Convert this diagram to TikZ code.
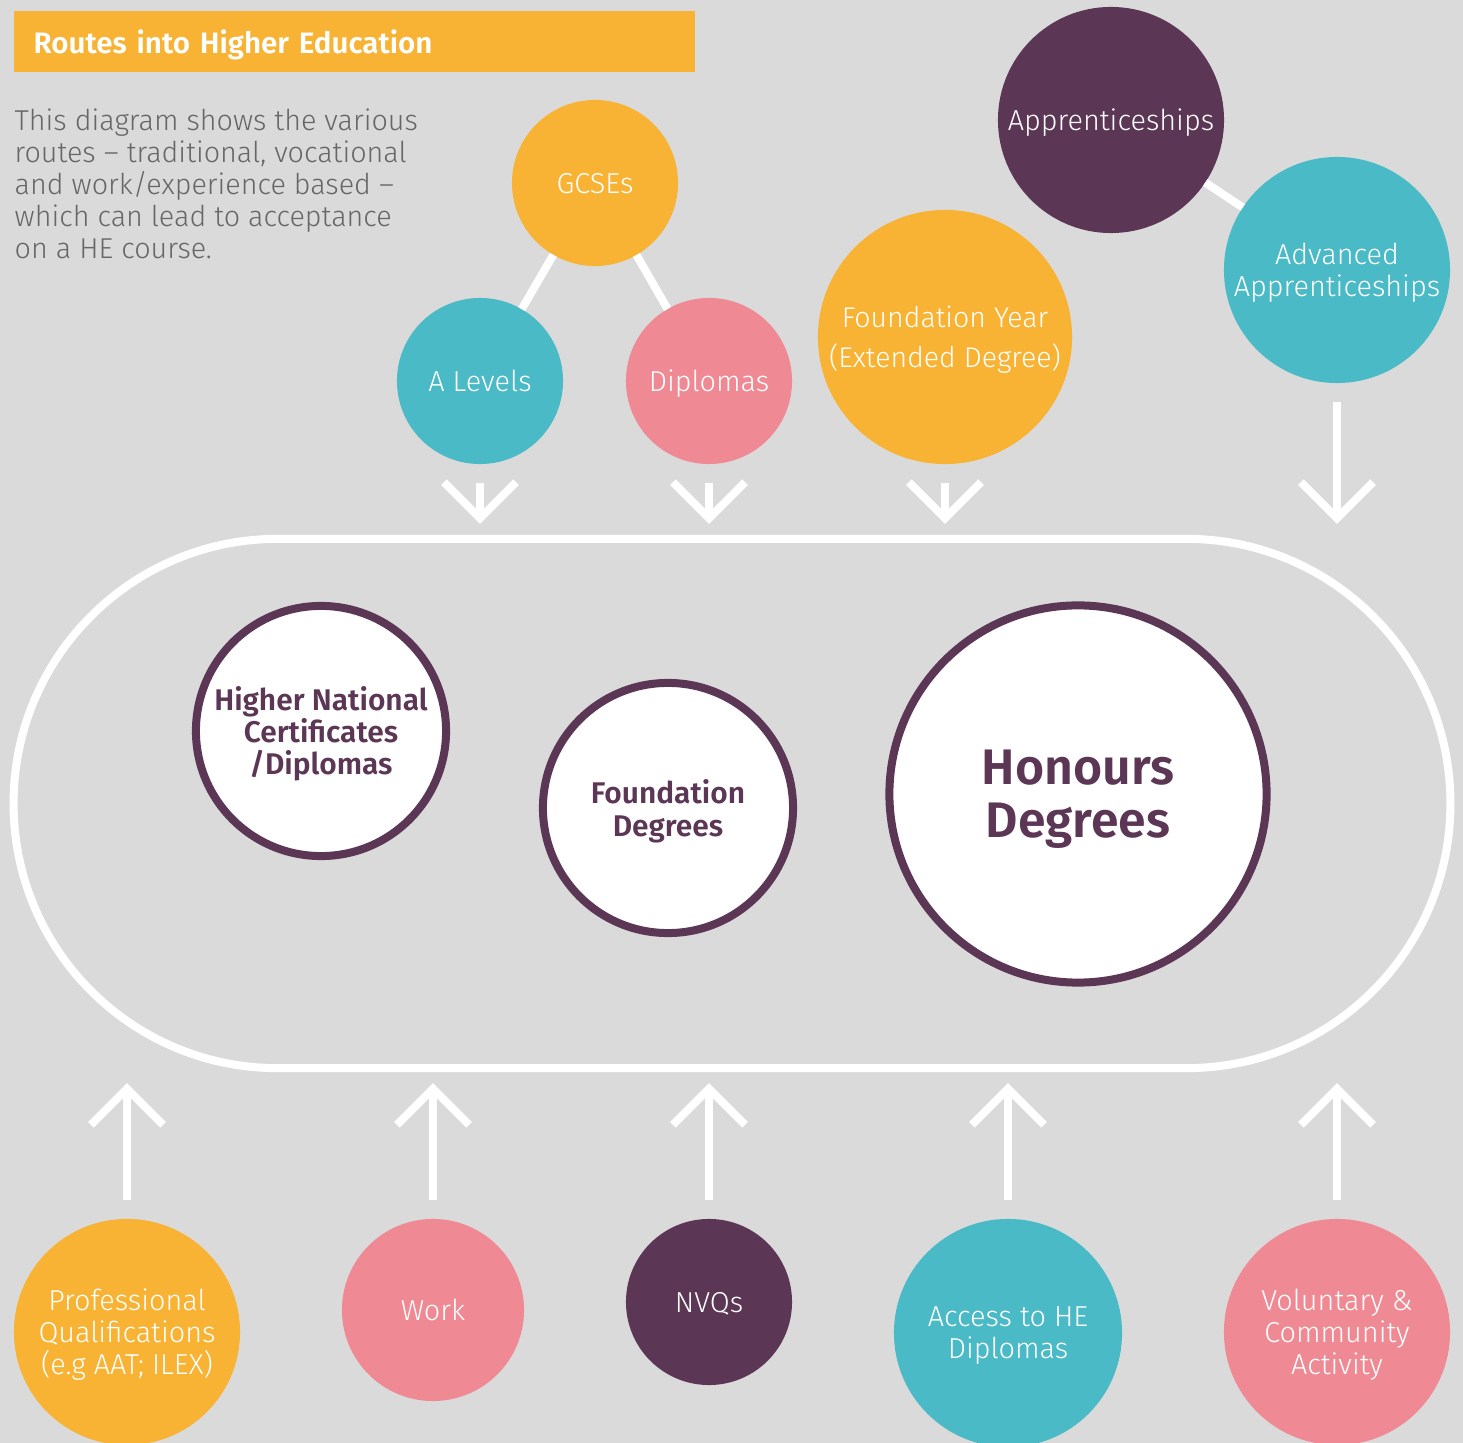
\documentclass[tikz,border=0pt]{standalone}
\usepackage{fontspec}
\setmainfont{Fira Sans}[UprightFont={* Light},BoldFont={* SemiBold}]
\usetikzlibrary{arrows.meta}
\definecolor{hegrey}{HTML}{DADADA}
\definecolor{heorange}{HTML}{F8B334}
\definecolor{heteal}{HTML}{4ABAC6}
\definecolor{hepink}{HTML}{EF8A94}
\definecolor{heplum}{HTML}{5C3655}
\definecolor{hetext}{HTML}{666666}
\begin{document}
\begin{tikzpicture}[x=0.01cm,y=-0.01cm,line join=miter,
  spot/.style={circle,fill=#1,text=white,align=center,inner sep=0pt,outer sep=0pt,text depth=0pt,font=\fontsize{8.2}{9.1}\selectfont},
  award/.style={circle,draw=heplum,fill=white,line width=0.08cm,text=heplum,align=center,inner sep=0pt,outer sep=0pt,text depth=0pt,minimum size=2.5cm,font=\bfseries\fontsize{8.5}{9.1}\selectfont},
  hub/.style={draw=white,line width=0.08cm,rounded corners=2.64cm,minimum width=14.36cm,minimum height=5.29cm,inner sep=0pt,outer sep=0pt},
  link/.style={draw=white,line width=0.08cm},
  route/.style={link,-{Straight Barb[length=0.36cm,width=0.72cm]},shorten <=0.19cm,shorten >=0.15cm}]
\fill[hegrey] (0,0) rectangle (1463,1443);
\useasboundingbox (0,0) rectangle (1463,1443);
% heading and intro
\node[fill=heorange,anchor=north west,minimum width=6.81cm,minimum height=0.61cm,text width=6.41cm,inner xsep=0.2cm,align=left,text=white,text depth=0pt,font=\bfseries\fontsize{8.4}{10}\selectfont] (title) at (13,10) {Routes into Higher Education};
\node[anchor=north west,align=left,inner sep=0pt,text=hetext,font=\fontsize{8.17}{9.1}\selectfont] (intro) at (14,108) {This diagram shows the various\\routes -- traditional, vocational\\and work/experience based --\\which can lead to acceptance\\on a HE course.};
% routes in from the top
\node[spot=heorange,minimum size=1.66cm] (gcse) at (595,183) {GCSEs};
\node[spot=heteal,minimum size=1.66cm] (alev) at (480,381) {A Levels};
\node[spot=hepink,minimum size=1.66cm] (dipl) at (709,381) {Diplomas};
\node[spot=heorange,minimum size=2.54cm,font=\fontsize{8.1}{11.4}\selectfont] (fyear) at (945,337) {Foundation Year\\(Extended Degree)};
\node[spot=heplum,minimum size=2.26cm] (app) at (1111,120) {Apprenticeships};
\node[spot=heteal,minimum size=2.26cm] (adapp) at (1337,270) {Advanced\\Apprenticeships};
\draw[link] (gcse) -- (alev) (gcse) -- (dipl) (app) -- (adapp);
% higher education
\node[hub] (hub) at (732,803.5) {};
\node[award] (hnc) at (321,731) {Higher National\\Certificates\\/Diplomas};
\node[award] (fdeg) at (668,808) {Foundation\\Degrees};
\node[award,minimum size=3.77cm,font=\bfseries\fontsize{14.2}{15.1}\selectfont] (hons) at (1078,794) {Honours\\Degrees};
% routes in from below
\node[spot=heorange,minimum size=2.26cm] (prof) at (127,1332) {Professional\\Qualifications\\(e.g AAT; ILEX)};
\node[spot=hepink,minimum size=1.82cm] (work) at (433,1310) {Work};
\node[spot=heplum,minimum size=1.66cm] (nvq) at (709,1302) {NVQs};
\node[spot=heteal,minimum size=2.28cm] (access) at (1008,1333) {Access to HE\\Diplomas};
\node[spot=hepink,minimum size=2.26cm] (volun) at (1337,1332) {Voluntary \&\\Community\\Activity};
\foreach \n in {alev,dipl,fyear,adapp}
  \draw[route] (\n) -- (\n |- hub.north);
\foreach \n in {prof,work,nvq,access,volun}
  \draw[route] (\n) -- (\n |- hub.south);
\end{tikzpicture}
\end{document}
